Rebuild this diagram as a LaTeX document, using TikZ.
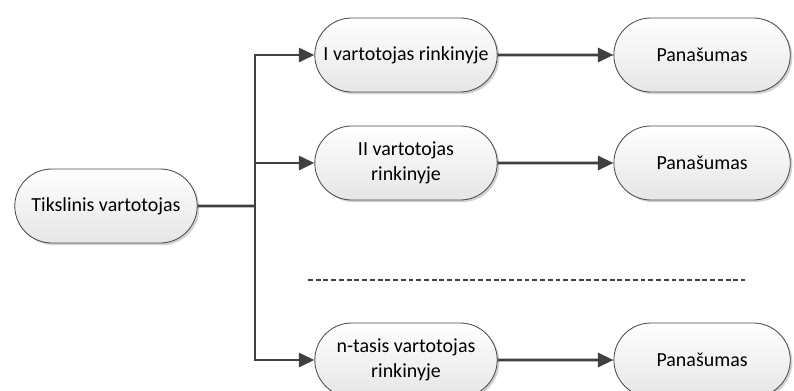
\documentclass[tikz,border=0pt]{standalone}
\usepackage{fontspec}
\setmainfont{Carlito}
\usetikzlibrary{positioning,shapes.misc,shadows,arrows.meta}

\tikzset{
  blok/.style={rounded rectangle, draw=black!70, line width=0.6pt,
    top color=white, bottom color=black!10,
    drop shadow={shadow xshift=1.5pt, shadow yshift=-1.5pt, fill=black!35, opacity=0.5},
    minimum width=4.7cm, minimum height=1.85cm, align=center,
    inner xsep=2pt, font=\fontsize{14.2}{17.5}\selectfont},
  pan/.style={blok, minimum width=4.55cm},
  jungtis/.style={draw=black!75, line width=1.8pt},
  rodykle/.style={jungtis, -{Triangle[length=11pt,width=10pt]}}
}

\begin{document}
\begin{tikzpicture}[x=0.025cm,y=-0.025cm,node distance=7.4cm,on grid]
  \useasboundingbox (0,0) rectangle (794,390);
   \node[blok] (tv) at (106,206) {Tikslinis vartotojas};
   \node[blok] (v1) at (406,55) {I vartotojas rinkinyje};
   \node[blok] (v2) at (406,163) {II vartotojas\\rinkinyje};
   \node[blok] (vn) at (406,360) {n-tasis vartotojas\\rinkinyje};
   \node[pan] (p1) [right=of v1] {Panašumas};
   \node[pan] (p2) [right=of v2] {Panašumas};
   \node[pan] (pn) [right=of vn] {Panašumas};
   \coordinate (sk) at (255,206);
   \coordinate (d1) at (308,280);
   \coordinate (d2) at (745,280);
    \draw[jungtis] (tv) -- (sk);
    \draw[rodykle] (sk) |- (v1);
    \draw[rodykle] (sk) |- (v2);
    \draw[rodykle] (sk) |- (vn);
    \draw[rodykle] (v1) -- (p1);
    \draw[rodykle] (v2) -- (p2);
    \draw[rodykle] (vn) -- (pn);
    \draw[black!75, line width=1.2pt, dash pattern=on 3.5pt off 2pt] (d1) -- (d2);
\end{tikzpicture}
\end{document}
